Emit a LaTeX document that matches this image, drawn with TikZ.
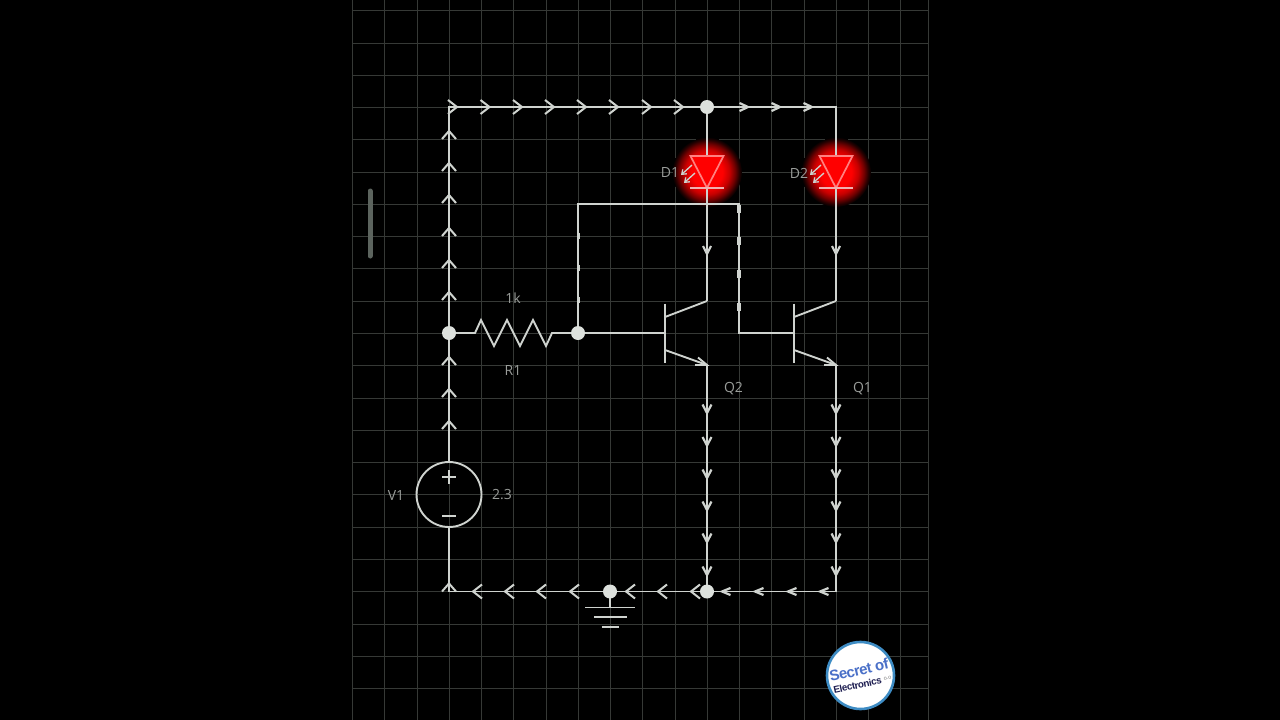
\documentclass[tikz,border=0pt]{standalone}
\usepackage{fontspec}
\usetikzlibrary{arrows.meta}
\setmainfont{Open Sans}
\newfontfamily\logofont{Liberation Sans}
\definecolor{wirecol}{HTML}{CFD3CF}
\definecolor{gridcol}{HTML}{363936}
\definecolor{labelcol}{HTML}{9A9D9A}
\definecolor{discol}{HTML}{DDE1DD}
\definecolor{ledline}{HTML}{FF8080}
\definecolor{ledbar}{HTML}{F0B0B0}
\definecolor{barcol}{HTML}{5C645E}
\definecolor{logoring}{HTML}{3E8CC4}
\definecolor{logoblue}{HTML}{4A70C8}
\definecolor{logonavy}{HTML}{1C1C50}
\pgfdeclareradialshading{ledglow}{\pgfpoint{0bp}{0bp}}{color(0bp)=(red); color(11bp)=(red); color(16bp)=(red!78!black); color(20bp)=(red!45!black); color(23bp)=(red!15!black); color(25bp)=(black)}
\tikzset{
  wire/.style={draw=wirecol,line width=1.9pt},
  gridline/.style={draw=gridcol,line width=1pt},
  chevbig/.style={draw=wirecol,line width=2pt,line join=miter},
  chevsmall/.style={draw=wirecol,line width=2.2pt,line join=miter},
  blip/.style={draw=wirecol,line width=3.2pt},
  dot/.style={circle,fill=discol,draw=none,minimum size=14pt,inner sep=0pt},
  lbl/.style={text=labelcol,font=\fontsize{14}{15}\selectfont,inner sep=0pt},
  ledtri/.style={draw=ledline,fill=red,line width=1.7pt,line join=miter},
  ledbarline/.style={draw=ledbar,line width=1.9pt},
  ledray/.style={draw=wirecol,line width=1.3pt},
}
\newcommand{\chevR}[5][chevbig]{\draw[#1] (#2-#5,#3-#4) -- (#2,#3) -- (#2-#5,#3+#4);}
\newcommand{\chevL}[5][chevbig]{\draw[#1] (#2+#5,#3-#4) -- (#2,#3) -- (#2+#5,#3+#4);}
\newcommand{\chevU}[5][chevbig]{\draw[#1] (#2-#4,#3+#5) -- (#2,#3) -- (#2+#4,#3+#5);}
\newcommand{\chevD}[5][chevbig]{\draw[#1] (#2-#4,#3-#5) -- (#2,#3) -- (#2+#4,#3-#5);}
\begin{document}
\begin{tikzpicture}[x=1pt,y=-1pt]
\useasboundingbox (0,0) rectangle (1280,720);
\fill[black] (0,0) rectangle (1280,720);
% grid
\foreach \gx in {352.5,384.5,417,449,481,513,546,578,610,642,675,707,739,771,804,836,868,900,928}
  \draw[gridline] (\gx,0) -- (\gx,720);
\foreach \gy in {10,43,75,107,139,172,204,236,268,301,333,365,398,430,462,494,527,559,591,624,656,688}
  \draw[gridline] (352,\gy) -- (928,\gy);
% scroll bar
\draw[draw=barcol,line width=5pt,line cap=round] (370,191) -- (370,256);
% LED glows
\shade[shading=ledglow] (707,172) circle (35);
\shade[shading=ledglow] (836,172) circle (35);
% junctions and corners
\coordinate (tl) at (449,107);
\coordinate (tr) at (836,107);
\coordinate (bl) at (449,591.5);
\coordinate (br) at (836,591.5);
\coordinate (vtop) at (449,462);
\coordinate (vbot) at (449,527);
\coordinate (rl) at (475,333);
\coordinate (rr) at (552,333);
\coordinate (fbtl) at (578,204);
\coordinate (fbtr) at (739,204);
\coordinate (fbbr) at (739,333);
\coordinate (q2b) at (665,333);
\coordinate (q1b) at (794,333);
\coordinate (q2c) at (707,301);
\coordinate (q2e) at (707,365);
\coordinate (q1c) at (836,301);
\coordinate (q1e) at (836,365);
\coordinate (d1a) at (707,156);
\coordinate (d1k) at (707,188);
\coordinate (d2a) at (836,156);
\coordinate (d2k) at (836,188);
\coordinate (gnd) at (610,607.5);
\coordinate (ntop) at (707,107);
\coordinate (nleft) at (449,333);
\coordinate (nbase) at (578,333);
\coordinate (ngnd) at (610,591.5);
\coordinate (nq2) at (707,591.5);
% wires
\draw[wire] (vtop) -- (nleft) -- (tl) -- (ntop) -- (tr) -- (d2a);
\draw[wire] (ntop) -- (d1a);
\draw[wire] (vbot) -- (bl) -- (ngnd) -- (nq2) -- (br);
\draw[wire] (nleft) -- (rl) -- (481,320) -- (494,346) -- (507,320) -- (520,346) -- (533,320) -- (546,346) -- (rr) -- (nbase);
\draw[wire] (nbase) -- (q2b);
\draw[wire] (nbase) -- (fbtl) -- (fbtr) -- (fbbr) -- (q1b);
\draw[wire] (d1k) -- (q2c);
\draw[wire] (d2k) -- (q1c);
\draw[wire] (q2e) -- (nq2);
\draw[wire] (q1e) -- (br);
\draw[wire] (ngnd) -- (gnd);
% discs above wires
\node[dot] (dtop) at (ntop) {};
\node[dot] (dleft) at (nleft) {};
\node[dot] (dbase) at (nbase) {};
\node[dot] (dgnd) at (ngnd) {};
\node[dot] (dq2) at (nq2) {};
% ground bars
\draw[wire] (585,607.5) -- (635,607.5);
\draw[wire] (594,617) -- (627,617);
\draw[wire] (601.5,627) -- (619,627);
% voltage source
\node[draw=wirecol,line width=1.9pt,circle,minimum size=65pt,inner sep=0pt,fill=none] (v1) at (449,494.5) {};
\draw[wire] (442,477) -- (456,477);
\draw[wire] (449,470) -- (449,484);
\draw[wire] (442,516) -- (456,516);
% transistors
\foreach \bx/\cx in {665/707,794/836}{
  \draw[wire] (\bx,303.5) -- (\bx,363);
  \draw[wire] (\bx,317) -- (\cx,301);
  \draw[wire] (\bx,350) -- (\cx,365);
  \draw[wire] (\cx-9,357.5) -- (\cx,365) -- (\cx-12,365);
}
% LEDs
\foreach \ledx in {707,836}{
  \draw[ledtri] (\ledx-16.5,156) -- (\ledx+16.5,156) -- (\ledx,188) -- cycle;
  \draw[ledbarline] (\ledx-17,188) -- (\ledx+17,188);
  \draw[ledray,-{Straight Barb[length=4pt,width=6pt]}] (\ledx-15,165) -- (\ledx-26,175);
  \draw[ledray,-{Straight Barb[length=4pt,width=6pt]}] (\ledx-12,173) -- (\ledx-23,183);
}
% current chevrons
\foreach \cx in {457,489.5,522,554,586,618,651,683} {\chevR{\cx}{107}{7}{9}}
\foreach \cx in {748,780,812} {\chevR[chevsmall]{\cx}{107}{4}{8.5}}
\foreach \cy in {131,163,195,228,260,292,357,389,421,583.5} {\chevU{449}{\cy}{7}{8}}
\foreach \cx in {473,505,537,570,626,658,691} {\chevL{\cx}{591.5}{7}{9}}
\foreach \cx in {722,755,788,820} {\chevL[chevsmall]{\cx}{591.5}{3.5}{8.5}}
\foreach \cy in {413,445.5,478,510,542,575} {
  \chevD[chevsmall]{707}{\cy}{4.5}{8.5}
  \chevD[chevsmall]{836}{\cy}{4.5}{8.5}
}
\chevD[chevsmall]{707}{254}{4}{8}
\chevD[chevsmall]{836}{254}{4}{8}
% small current marks on the feedback wire
\foreach \bx in {578,611,643,675,707} \draw[draw=wirecol,line width=2.8pt] (\bx-1,204) -- (\bx+5,204);
\foreach \by in {236,268,300} \draw[draw=wirecol,line width=3pt] (578,\by-3) -- (578,\by+3);
\foreach \by in {205,237,270,303} \draw[blip] (739,\by) -- (739,\by+8);
\draw[draw=wirecol,line width=2.8pt] (586,333) -- (595,333);
% labels
\node[lbl] (ld1) at (670,173) {D1};
\node[lbl] (ld2) at (799,173) {D2};
\node[lbl] (lr) at (513,298.5) {1k};
\node[lbl] (lrn) at (513,370) {R1};
\node[lbl] (lq2) at (733.5,389) {Q2};
\node[lbl] (lq1) at (862.5,389) {Q1};
\node[lbl] (lv1) at (396,495) {V1};
\node[lbl] (lv) at (502,495) {2.3};
% logo
\node[circle,fill=white,draw=logoring,line width=2.6pt,minimum size=67pt,inner sep=0pt] (logo) at (860.5,675.5) {};
\node[rotate=13,inner sep=0pt,text=logoblue,font=\logofont\bfseries\fontsize{15}{16}\selectfont] (logoa) at (859,670) {\addfontfeature{LetterSpace=-4}Secret of};
\node[rotate=12,inner sep=0pt,text=logonavy,font=\logofont\bfseries\fontsize{9.8}{10}\selectfont] (logob) at (857.5,685) {\addfontfeature{LetterSpace=-4}Electronics};
\node[rotate=12,inner sep=0pt,text=gray,font=\logofont\fontsize{5.5}{6}\selectfont] (logoc) at (887.5,678) {o.o};
\end{tikzpicture}
\end{document}
